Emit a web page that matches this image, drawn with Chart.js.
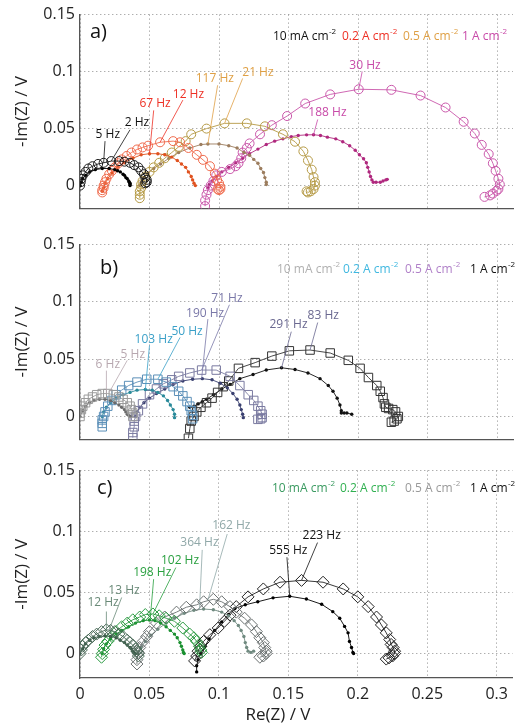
<!DOCTYPE html>
<html>
<head>
<meta charset="utf-8">
<script src="https://cdn.jsdelivr.net/npm/chart.js@4"></script>
<style>
  body { margin: 0; background: #fff; }
  #wrap { position: relative; width: 515px; height: 727px; }
  canvas { position: absolute; left: 0; }
</style>
</head>
<body>
<div id="wrap">
  <canvas id="panelA" style="top:0px" width="515" height="223"></canvas>
  <canvas id="panelB" style="top:230px" width="515" height="224"></canvas>
  <canvas id="panelC" style="top:456px" width="515" height="271"></canvas>
</div>
<script>
// axis ticks
const xTicks = [0, 0.05, 0.1, 0.15, 0.2, 0.25, 0.3];
const yTicks = [0, 0.05, 0.1, 0.15];
const currents = ['10 mA cm', '0.2 A cm', '0.5 A cm', '1 A cm'];

// panel a) : open circles + small dots, [Re, -Im] in V
const a10Open = [[0,0],[0.0005,0.003],[0.001,0.006],[0.002,0.009],[0.004,0.012],[0.006,0.015],[0.009,0.017],[0.013,0.019],[0.017,0.020],[0.0225,0.0215],[0.028,0.0215],[0.032,0.021],[0.036,0.020],[0.039,0.018],[0.042,0.016],[0.044,0.013],[0.046,0.010],[0.047,0.007],[0.048,0.005],[0.048,0.003],[0.047,0.002]];
const a10Dots = [[0,0],[0.001,0.003],[0.002,0.006],[0.004,0.009],[0.007,0.012],[0.011,0.014],[0.016,0.015],[0.021,0.015],[0.025,0.014],[0.027,0.013],[0.029,0.012],[0.031,0.010],[0.032,0.009],[0.033,0.007],[0.034,0.006],[0.035,0.004],[0.0355,0.003],[0.036,0.002],[0.036,0.001],[0.036,0]];
const a02Open = [[0.016,-0.006],[0.016,-0.004],[0.017,-0.002],[0.017,0],[0.018,0.003],[0.019,0.006],[0.021,0.010],[0.023,0.013],[0.025,0.016],[0.0276,0.0196],[0.030,0.023],[0.0336,0.026],[0.037,0.029],[0.041,0.0317],[0.045,0.0335],[0.049,0.035],[0.0576,0.038],[0.067,0.039],[0.072,0.038],[0.078,0.033],[0.084,0.027],[0.0885,0.0226],[0.0935,0.017],[0.097,0.0105],[0.0986,0.005],[0.100,0.002],[0.101,-0.001],[0.101,-0.003],[0.100,-0.004],[0.099,-0.003]];
const a02Dots = [[0.016,-0.005],[0.017,-0.002],[0.018,0.002],[0.020,0.006],[0.023,0.011],[0.027,0.016],[0.032,0.020],[0.038,0.024],[0.044,0.027],[0.050,0.028],[0.056,0.028],[0.061,0.027],[0.066,0.025],[0.070,0.022],[0.073,0.019],[0.076,0.016],[0.078,0.012],[0.080,0.008],[0.081,0.005],[0.082,0.002],[0.083,0]];
const a05Open = [[0.043,-0.011],[0.043,-0.008],[0.043,-0.005],[0.044,-0.002],[0.044,0.001],[0.045,0.004],[0.047,0.008],[0.050,0.012],[0.053,0.016],[0.057,0.020],[0.061,0.024],[0.066,0.029],[0.071,0.034],[0.076,0.039],[0.080,0.045],[0.091,0.050],[0.104,0.0546],[0.120,0.0546],[0.133,0.052],[0.146,0.045],[0.1547,0.0385],[0.1607,0.030],[0.164,0.022],[0.1667,0.014],[0.168,0.0075],[0.169,0.003],[0.169,0],[0.168,-0.003],[0.166,-0.005],[0.164,-0.006],[0.163,-0.005]];
const a05Dots = [[0.043,0],[0.044,0.003],[0.046,0.007],[0.049,0.011],[0.053,0.015],[0.058,0.019],[0.064,0.024],[0.071,0.029],[0.079,0.033],[0.087,0.036],[0.092,0.0365],[0.100,0.0365],[0.107,0.035],[0.113,0.033],[0.118,0.029],[0.122,0.0266],[0.125,0.023],[0.128,0.0196],[0.130,0.015],[0.132,0.0115],[0.133,0.007],[0.134,0.003],[0.134,0.001]];
const a1Open = [[0.090,-0.018],[0.090,-0.013],[0.091,-0.008],[0.092,-0.004],[0.094,0],[0.096,0.004],[0.098,0.009],[0.102,0.012],[0.108,0.0145],[0.112,0.017],[0.114,0.0196],[0.116,0.024],[0.117,0.029],[0.120,0.033],[0.122,0.037],[0.1295,0.045],[0.138,0.053],[0.149,0.061],[0.162,0.072],[0.180,0.080],[0.2005,0.0845],[0.224,0.084],[0.245,0.079],[0.263,0.0685],[0.276,0.056],[0.284,0.0457],[0.289,0.0357],[0.294,0.0277],[0.297,0.0196],[0.299,0.013],[0.301,0.006],[0.302,0.001],[0.301,-0.003],[0.2997,-0.0046],[0.297,-0.007],[0.295,-0.0086],[0.291,-0.0099]];
const a1Dots = [[0.092,-0.002],[0.093,0.001],[0.095,0.004],[0.098,0.008],[0.102,0.012],[0.107,0.016],[0.112,0.020],[0.117,0.024],[0.122,0.028],[0.128,0.032],[0.134,0.036],[0.140,0.039],[0.146,0.041],[0.152,0.043],[0.157,0.044],[0.163,0.0445],[0.168,0.0446],[0.173,0.044],[0.178,0.0425],[0.184,0.041],[0.189,0.0385],[0.194,0.035],[0.198,0.031],[0.201,0.027],[0.204,0.0235],[0.206,0.020],[0.207,0.016],[0.208,0.012],[0.209,0.008],[0.210,0.005],[0.211,0.003],[0.213,0.003],[0.216,0.003],[0.218,0.004],[0.220,0.005],[0.221,0.0055]];

// panel b) : open squares + small dots
const b10Open = [[0,0],[0,0.003],[0.001,0.006],[0.002,0.009],[0.004,0.012],[0.006,0.015],[0.009,0.017],[0.012,0.019],[0.016,0.020],[0.020,0.020],[0.024,0.019],[0.028,0.017],[0.031,0.015],[0.034,0.012],[0.036,0.009],[0.037,0.006],[0.038,0.003],[0.038,0]];
const b10Dots = [[0,0],[0.002,0.005],[0.004,0.009],[0.007,0.012],[0.010,0.014],[0.014,0.015],[0.018,0.015],[0.022,0.014],[0.025,0.012],[0.028,0.010],[0.030,0.008],[0.032,0.006],[0.033,0.004],[0.034,0.002],[0.035,0.001],[0.036,0]];
const b02Open = [[0.016,-0.009],[0.016,-0.006],[0.016,-0.003],[0.017,0],[0.018,0.004],[0.020,0.009],[0.023,0.014],[0.026,0.019],[0.030,0.023],[0.035,0.027],[0.041,0.030],[0.048,0.0325],[0.056,0.0325],[0.062,0.030],[0.067,0.026],[0.071,0.022],[0.074,0.018],[0.077,0.013],[0.079,0.009],[0.080,0.005],[0.081,0.001],[0.081,-0.002]];
const b02Dots = [[0.016,0],[0.017,0.004],[0.019,0.008],[0.022,0.012],[0.026,0.016],[0.031,0.019],[0.036,0.021],[0.041,0.023],[0.047,0.0235],[0.052,0.023],[0.056,0.021],[0.060,0.018],[0.063,0.014],[0.065,0.010],[0.067,0.006],[0.068,0.002],[0.068,-0.001]];
const b05Open = [[0.038,-0.0185],[0.038,-0.014],[0.039,-0.009],[0.039,-0.004],[0.040,0],[0.042,0.005],[0.045,0.011],[0.050,0.019],[0.055,0.024],[0.060,0.0285],[0.066,0.032],[0.071,0.035],[0.079,0.038],[0.0875,0.0405],[0.098,0.0405],[0.108,0.035],[0.115,0.027],[0.121,0.019],[0.125,0.014],[0.128,0.009],[0.130,0.005],[0.131,0.002],[0.131,-0.001],[0.130,-0.002],[0.128,-0.0025]];
const b05Dots = [[0.040,0],[0.041,0.004],[0.043,0.008],[0.046,0.012],[0.050,0.016],[0.055,0.020],[0.061,0.024],[0.067,0.028],[0.074,0.031],[0.081,0.0325],[0.088,0.033],[0.095,0.032],[0.101,0.029],[0.106,0.025],[0.110,0.020],[0.113,0.015],[0.115,0.010],[0.116,0.006],[0.117,0.002],[0.1175,-0.001]];
const b1Open = [[0.078,-0.019],[0.079,-0.0105],[0.080,-0.004],[0.082,0],[0.084,0.004],[0.087,0.008],[0.091,0.012],[0.095,0.016],[0.099,0.021],[0.103,0.026],[0.107,0.031],[0.114,0.042],[0.126,0.047],[0.138,0.0527],[0.1506,0.0573],[0.1655,0.058],[0.180,0.0554],[0.193,0.049],[0.2015,0.042],[0.2075,0.034],[0.2135,0.027],[0.216,0.022],[0.218,0.0165],[0.219,0.011],[0.220,0.008],[0.222,0.007],[0.225,0.006],[0.227,0.004],[0.229,0],[0.228,-0.002],[0.226,-0.004],[0.224,-0.005]];
const b1Dots = [[0.079,0.008],[0.082,0.009],[0.085,0.011],[0.088,0.013],[0.091,0.015],[0.096,0.019],[0.102,0.024],[0.108,0.028],[0.115,0.033],[0.1245,0.0366],[0.134,0.0406],[0.145,0.0425],[0.1547,0.041],[0.164,0.038],[0.1727,0.033],[0.1786,0.027],[0.182,0.022],[0.185,0.016],[0.187,0.010],[0.188,0.005],[0.188,0.003],[0.190,0.003],[0.192,0.003],[0.1955,0.002]];

// panel c) : open diamonds + small dots
const c10Open = [[0,0],[0.001,0.003],[0.002,0.006],[0.004,0.009],[0.006,0.011],[0.009,0.014],[0.012,0.016],[0.0155,0.018],[0.019,0.0195],[0.022,0.019],[0.025,0.018],[0.028,0.016],[0.031,0.014],[0.034,0.011],[0.036,0.009],[0.038,0.007],[0.040,0.004],[0.041,0.002],[0.042,0],[0.042,-0.002]];
const c10Dots = [[0,0],[0.002,0.004],[0.004,0.008],[0.007,0.011],[0.010,0.013],[0.014,0.014],[0.018,0.0145],[0.022,0.014],[0.026,0.013],[0.029,0.011],[0.032,0.009],[0.034,0.007],[0.036,0.005],[0.037,0.004],[0.038,0.002],[0.039,0.001],[0.040,0]];
const c02Open = [[0.0155,-0.003],[0.016,0],[0.017,0.0035],[0.018,0.007],[0.020,0.010],[0.023,0.014],[0.026,0.018],[0.030,0.022],[0.034,0.025],[0.038,0.0277],[0.043,0.030],[0.047,0.032],[0.0525,0.0325],[0.057,0.031],[0.062,0.029],[0.068,0.0265],[0.074,0.021],[0.079,0.016],[0.082,0.013],[0.084,0.010],[0.086,0.006],[0.087,0.003],[0.0875,0.001]];
const c02Dots = [[0.016,0],[0.017,0.004],[0.019,0.008],[0.022,0.012],[0.026,0.016],[0.030,0.019],[0.035,0.022],[0.040,0.025],[0.0455,0.027],[0.050,0.0275],[0.054,0.027],[0.058,0.025],[0.062,0.022],[0.065,0.019],[0.068,0.016],[0.070,0.013],[0.072,0.009],[0.073,0.006],[0.074,0.003],[0.0745,0.001],[0.075,0]];
const c05Open = [[0.041,-0.0085],[0.041,-0.005],[0.042,0.001],[0.043,0.005],[0.0455,0.010],[0.048,0.014],[0.050,0.018],[0.055,0.025],[0.061,0.030],[0.0695,0.034],[0.0765,0.038],[0.084,0.040],[0.089,0.0425],[0.096,0.0445],[0.102,0.0425],[0.108,0.0385],[0.1125,0.034],[0.1185,0.029],[0.1235,0.0235],[0.127,0.018],[0.1295,0.013],[0.132,0.009],[0.133,0.005],[0.134,0.002],[0.134,0],[0.132,-0.002],[0.1295,-0.003]];
const c05Dots = [[0.042,0],[0.044,0.005],[0.047,0.010],[0.051,0.015],[0.056,0.020],[0.062,0.025],[0.068,0.029],[0.075,0.033],[0.082,0.0355],[0.089,0.0365],[0.096,0.036],[0.102,0.034],[0.107,0.031],[0.111,0.027],[0.114,0.023],[0.116,0.019],[0.118,0.014],[0.119,0.009],[0.120,0.005],[0.121,0.002],[0.123,0.001],[0.125,0.002]];
const c1Open = [[0.0825,-0.006],[0.084,-0.002],[0.085,0.002],[0.087,0.006],[0.089,0.010],[0.0935,0.0155],[0.0995,0.021],[0.104,0.0265],[0.108,0.0315],[0.1125,0.0385],[0.121,0.0465],[0.132,0.053],[0.144,0.0585],[0.1595,0.060],[0.175,0.0585],[0.1895,0.053],[0.200,0.0465],[0.2075,0.0385],[0.2135,0.030],[0.217,0.0235],[0.2205,0.017],[0.223,0.0115],[0.224,0.0075],[0.2255,0.005],[0.2265,0.002],[0.2265,0],[0.225,-0.002],[0.2225,-0.0035],[0.2205,-0.0045]];
const c1Dots = [[0.084,-0.015],[0.084,-0.010],[0.085,-0.005],[0.087,0],[0.090,0.006],[0.093,0.012],[0.097,0.019],[0.102,0.026],[0.107,0.032],[0.1115,0.037],[0.119,0.040],[0.128,0.0425],[0.139,0.0457],[0.151,0.047],[0.163,0.0447],[0.174,0.0404],[0.182,0.0344],[0.187,0.029],[0.1905,0.0223],[0.193,0.017],[0.194,0.010],[0.1955,0.005],[0.1965,0.001],[0.197,0]];

const FONT = '"Open Sans", "DejaVu Sans", sans-serif';

function openSet(pts, color, style, r) {
    return {
        data: pts.map(p => ({ x: p[0], y: p[1] })),
        showLine: true,
        borderColor: color,
        borderWidth: 0.9,
        pointStyle: style,
        pointRadius: r,
        pointBorderColor: color,
        pointBackgroundColor: 'rgba(255,255,255,0)',
        pointBorderWidth: 1
    };
}

function dotSet(pts, color) {
    return {
        data: pts.map(p => ({ x: p[0], y: p[1] })),
        showLine: true,
        borderColor: color,
        borderWidth: 0.9,
        pointStyle: 'circle',
        pointRadius: 1.7,
        pointBorderWidth: 0,
        pointBackgroundColor: color
    };
}

// freq labels, legend, titles
const annot = {
    id: 'annot',
    afterDatasetsDraw(chart, args, o) {
        const ctx = chart.ctx;
        const xs = chart.scales.x, ys = chart.scales.y;
        ctx.save();
        ctx.font = '12px ' + FONT;
        ctx.textAlign = 'center';
        ctx.textBaseline = 'middle';
        o.freqs.forEach(f => {
            ctx.strokeStyle = f.color;
            ctx.lineWidth = 0.8;
            ctx.beginPath();
            ctx.moveTo(xs.getPixelForValue(f.from[0]), ys.getPixelForValue(f.from[1]));
            ctx.lineTo(xs.getPixelForValue(f.to[0]), ys.getPixelForValue(f.to[1]));
            ctx.stroke();
            ctx.fillStyle = f.color;
            ctx.fillText(f.text, xs.getPixelForValue(f.at[0]), ys.getPixelForValue(f.at[1]));
        });

        // legend with superscript
        ctx.textAlign = 'left';
        ctx.textBaseline = 'alphabetic';
        currents.forEach((c, i) => {
            ctx.font = '12px ' + FONT;
            ctx.fillStyle = o.legendColors[i];
            const x0 = o.legendX[i];
            ctx.fillText(c, x0, o.legendY);
            const w = ctx.measureText(c).width;
            ctx.font = '8px ' + FONT;
            ctx.fillText('-2', x0 + w + 0.5, o.legendY - 6);
        });

        // panel letter
        ctx.font = '20px ' + FONT;
        ctx.fillStyle = '#111';
        ctx.textBaseline = 'middle';
        ctx.fillText(o.letter, o.letterPos[0], o.letterPos[1]);

        // y title
        const ca = chart.chartArea;
        ctx.save();
        ctx.translate(22, (ca.top + ca.bottom) / 2);
        ctx.rotate(-Math.PI / 2);
        ctx.textAlign = 'center';
        ctx.font = '17px ' + FONT;
        ctx.fillStyle = '#222';
        ctx.fillText('-Im(Z) / V', 0, 0);
        ctx.restore();

        if (o.xTitle) {
            ctx.textAlign = 'center';
            ctx.font = '17px ' + FONT;
            ctx.fillStyle = '#222';
            ctx.fillText('Re(Z) / V', o.xTitle[0], o.xTitle[1]);
        }
        ctx.restore();
    }
};

const fmt = v => String(Math.round(v * 100) / 100);

function makePanel(id, datasets, cfg) {
    const ctx = document.getElementById(id).getContext('2d');
    return new Chart(ctx, {
        type: 'scatter',
        data: { datasets: datasets },
        plugins: [annot],
        options: {
            responsive: false,
            animation: false,
            layout: { padding: { top: cfg.padTop, right: 2, left: 0, bottom: 0 }, autoPadding: false },
            plugins: {
                legend: { display: false },
                tooltip: { enabled: false },
                annot: cfg.annot
            },
            scales: {
                x: {
                    type: 'linear',
                    min: 0,
                    max: 0.3115,
                    afterBuildTicks: s => { s.ticks = xTicks.map(v => ({ value: v })); },
                    afterFit: s => { s.height = cfg.xHeight; },
                    grid: { color: '#8c8c8c', lineWidth: 1, drawTicks: false },
                    border: { color: '#555', width: 1.3, dash: [1, 3] },
                    ticks: { display: cfg.showX, padding: 7, color: '#222', font: { family: FONT, size: 16 }, callback: fmt }
                },
                y: {
                    type: 'linear',
                    min: -0.02,
                    max: 0.15,
                    afterBuildTicks: s => { s.ticks = yTicks.map(v => ({ value: v })); },
                    afterFit: s => { s.width = 80; },
                    grid: { color: '#8c8c8c', lineWidth: 1, drawTicks: false },
                    border: { color: '#555', width: 1.3, dash: [1, 3] },
                    ticks: { padding: 5, color: '#222', font: { family: FONT, size: 16 }, callback: fmt }
                }
            }
        }
    });
}

// a)
makePanel('panelA', [
    openSet(a10Open, '#1a1a1a', 'circle', 4.5),
    dotSet(a10Dots, '#000000'),
    openSet(a02Open, '#ef6a4c', 'circle', 4.5),
    dotSet(a02Dots, '#e0521f'),
    openSet(a05Open, '#b59a45', 'circle', 4.5),
    dotSet(a05Dots, '#9c7d5e'),
    openSet(a1Open, '#c957aa', 'circle', 4.5),
    dotSet(a1Dots, '#b0287e')
], {
    padTop: 9.5, xHeight: 2, showX: false,
    annot: {
        letter: 'a)', letterPos: [90, 32],
        legendY: 40, legendX: [273, 342, 403, 462],
        legendColors: ['#111', '#ee3024', '#dfa045', '#c84aa8'],
        freqs: [
            { text: '5 Hz', color: '#111', at: [0.020, 0.045], from: [0.018, 0.039], to: [0.017, 0.020] },
            { text: '2 Hz', color: '#111', at: [0.041, 0.055], from: [0.036, 0.049], to: [0.0225, 0.0215] },
            { text: '67 Hz', color: '#ee3024', at: [0.054, 0.072], from: [0.053, 0.066], to: [0.050, 0.028] },
            { text: '12 Hz', color: '#ee3024', at: [0.078, 0.080], from: [0.074, 0.075], to: [0.0576, 0.038] },
            { text: '117 Hz', color: '#dfa045', at: [0.097, 0.0935], from: [0.099, 0.088], to: [0.092, 0.0365] },
            { text: '21 Hz', color: '#dfa045', at: [0.128, 0.099], from: [0.117, 0.094], to: [0.104, 0.0546] },
            { text: '30 Hz', color: '#c84aa8', at: [0.205, 0.1056], from: [0.203, 0.100], to: [0.2005, 0.0845] },
            { text: '188 Hz', color: '#c84aa8', at: [0.178, 0.0637], from: [0.171, 0.058], to: [0.168, 0.0446] }
        ]
    }
});

// b)
makePanel('panelB', [
    openSet(b10Open, '#9a9a9a', 'rect', 6),
    dotSet(b10Dots, '#6a6a6a'),
    openSet(b02Open, '#5b8fb8', 'rect', 6),
    dotSet(b02Dots, '#2a8a9a'),
    openSet(b05Open, '#7a7aa0', 'rect', 6),
    dotSet(b05Dots, '#3a4070'),
    openSet(b1Open, '#333333', 'rect', 6),
    dotSet(b1Dots, '#111111')
], {
    padTop: 10, xHeight: 2, showX: false,
    annot: {
        letter: 'b)', letterPos: [100, 38],
        legendY: 43, legendX: [277, 343, 405, 470],
        legendColors: ['#b0b0b0', '#40b8e0', '#b080c8', '#111'],
        freqs: [
            { text: '6 Hz', color: '#b8a8b0', at: [0.020, 0.045], from: [0.019, 0.040], to: [0.019, 0.020] },
            { text: '5 Hz', color: '#b8a8b0', at: [0.038, 0.054], from: [0.034, 0.049], to: [0.021, 0.021] },
            { text: '103 Hz', color: '#3aa0c8', at: [0.053, 0.067], from: [0.050, 0.062], to: [0.047, 0.0235] },
            { text: '50 Hz', color: '#3aa0c8', at: [0.077, 0.074], from: [0.072, 0.069], to: [0.056, 0.0325] },
            { text: '190 Hz', color: '#7a78a8', at: [0.090, 0.090], from: [0.092, 0.085], to: [0.0875, 0.033] },
            { text: '71 Hz', color: '#7a78a8', at: [0.1057, 0.103], from: [0.1075, 0.0975], to: [0.0875, 0.0405] },
            { text: '291 Hz', color: '#6a6890', at: [0.150, 0.080], from: [0.152, 0.074], to: [0.145, 0.0425] },
            { text: '83 Hz', color: '#6a6890', at: [0.175, 0.088], from: [0.171, 0.082], to: [0.1655, 0.058] }
        ]
    }
});

// c)
makePanel('panelC', [
    openSet(c10Open, '#4a6a58', 'rectRot', 6),
    dotSet(c10Dots, '#3a5a48'),
    openSet(c02Open, '#2a9a40', 'rectRot', 6),
    dotSet(c02Dots, '#1a9030'),
    openSet(c05Open, '#6a7070', 'rectRot', 6),
    dotSet(c05Dots, '#708a80'),
    openSet(c1Open, '#222222', 'rectRot', 6),
    dotSet(c1Dots, '#000000')
], {
    padTop: 10, xHeight: 49, showX: true,
    annot: {
        letter: 'c)', letterPos: [97, 32],
        legendY: 36, legendX: [272, 340, 405, 470],
        legendColors: ['#3a9a60', '#30b050', '#999999', '#111'],
        xTitle: [278, 259],
        freqs: [
            { text: '12 Hz', color: '#6a8a78', at: [0.0166, 0.0417], from: [0.019, 0.0345], to: [0.019, 0.0195] },
            { text: '13 Hz', color: '#6a8a78', at: [0.0317, 0.052], from: [0.030, 0.046], to: [0.021, 0.0195] },
            { text: '198 Hz', color: '#2aa040', at: [0.052, 0.0667], from: [0.053, 0.061], to: [0.0505, 0.0275] },
            { text: '102 Hz', color: '#2aa040', at: [0.072, 0.076], from: [0.069, 0.0705], to: [0.0525, 0.0325] },
            { text: '364 Hz', color: '#90a8a8', at: [0.086, 0.091], from: [0.088, 0.085], to: [0.086, 0.036] },
            { text: '162 Hz', color: '#90a8a8', at: [0.109, 0.1046], from: [0.106, 0.098], to: [0.092, 0.0435] },
            { text: '555 Hz', color: '#111', at: [0.150, 0.0845], from: [0.149, 0.079], to: [0.151, 0.047] },
            { text: '223 Hz', color: '#111', at: [0.174, 0.097], from: [0.171, 0.091], to: [0.1595, 0.060] }
        ]
    }
});
</script>
</body>
</html>
